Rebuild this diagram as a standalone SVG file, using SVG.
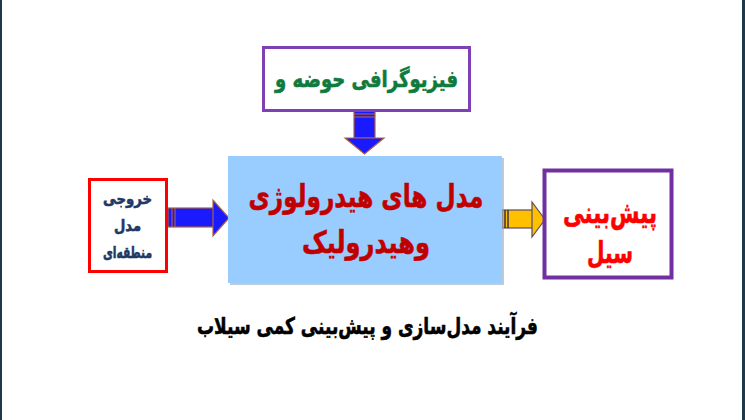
<svg xmlns="http://www.w3.org/2000/svg" width="745" height="420" viewBox="0 0 745 420">
<style>
  text { font-family: "DejaVu Sans", "Noto Sans", sans-serif; font-weight: bold; text-anchor: middle; stroke-width: 0.6; }
  .arrowline { stroke: #b0603a; stroke-width: 1.2; }
</style>
<rect x="0" y="0" width="745" height="420" fill="#ffffff"/>
<rect x="0" y="0" width="2" height="420" fill="#1b3b4c"/>
<rect x="742" y="0" width="3" height="420" fill="#1b3b4c"/>

<g id="connectors">
  <g id="arrow-down">
    <rect x="354" y="111" width="21" height="27" fill="#1a1aff" class="arrowline"/>
    <line x1="354" y1="114" x2="375" y2="114" class="arrowline"/>
    <line x1="354" y1="117" x2="375" y2="117" class="arrowline"/>
    <polygon points="345,138 384,138 364.5,154" fill="#1a1aff" class="arrowline"/>
  </g>
  <g id="arrow-left">
    <rect x="168" y="208" width="46" height="19" fill="#1a1aff" class="arrowline"/>
    <line x1="172" y1="208" x2="172" y2="227" class="arrowline"/>
    <line x1="175" y1="208" x2="175" y2="227" class="arrowline"/>
    <polygon points="213,200 213,236 229,218" fill="#1a1aff" class="arrowline"/>
  </g>
  <g id="arrow-right">
    <rect x="502" y="210" width="31" height="18" fill="#ffc000" stroke="#5a4a6a" stroke-width="1.2"/>
    <line x1="505" y1="210" x2="505" y2="228" stroke="#3a3050" stroke-width="1.5"/>
    <line x1="508" y1="210" x2="508" y2="228" stroke="#3a3050" stroke-width="1.5"/>
    <polygon points="532,202 532,237 545,219.5" fill="#ffc000" stroke="#5a4a6a" stroke-width="1.2"/>
  </g>
</g>

<g id="node-top">
  <rect x="263.5" y="47.5" width="206" height="63" fill="#ffffff" stroke="#7f3fb5" stroke-width="3"/>
  <text x="366.5" y="87" font-size="23" fill="#0f7a3c" stroke="#0f7a3c" textLength="183" lengthAdjust="spacingAndGlyphs">فیزیوگرافی حوضه و</text>
</g>

<g id="node-main">
  <rect x="230" y="158" width="274" height="127" fill="#8fa9c4" opacity="0.6"/>
  <rect x="228" y="156" width="274" height="127" fill="#99ccff"/>
  <text x="366" y="207" font-size="31" fill="#c00000" stroke="#c00000" textLength="235" lengthAdjust="spacingAndGlyphs">مدل های هیدرولوژی</text>
  <text x="366" y="253" font-size="31" fill="#c00000" stroke="#c00000" textLength="128" lengthAdjust="spacingAndGlyphs">وهیدرولیک</text>
</g>

<g id="node-left">
  <rect x="89.5" y="179.5" width="77" height="92" fill="#ffffff" stroke="#ff0000" stroke-width="3"/>
  <text x="127.5" y="204" font-size="16" fill="#1f3864" stroke="#1f3864" stroke-width="0.3" textLength="49" lengthAdjust="spacingAndGlyphs">خروجی</text>
  <text x="127.5" y="231" font-size="16" fill="#1f3864" stroke="#1f3864" stroke-width="0.3" textLength="27" lengthAdjust="spacingAndGlyphs">مدل</text>
  <text x="127.5" y="258" font-size="16" fill="#1f3864" stroke="#1f3864" stroke-width="0.3" textLength="49" lengthAdjust="spacingAndGlyphs">منطقه‌ای</text>
</g>

<g id="node-right">
  <rect x="544.5" y="170.5" width="127" height="107" fill="#ffffff" stroke="#7030a0" stroke-width="4"/>
  <text x="610" y="223" font-size="30" fill="#ff0000" stroke="#ff0000" textLength="94" lengthAdjust="spacingAndGlyphs">پیش‌بینی</text>
  <text x="610" y="263" font-size="30" fill="#ff0000" stroke="#ff0000" textLength="46" lengthAdjust="spacingAndGlyphs">سیل</text>
</g>

<text x="367.5" y="334" font-size="23" fill="#000000" stroke="#000000" textLength="341" lengthAdjust="spacingAndGlyphs">فرآیند مدل‌سازی و پیش‌بینی کمی سیلاب</text>
</svg>
